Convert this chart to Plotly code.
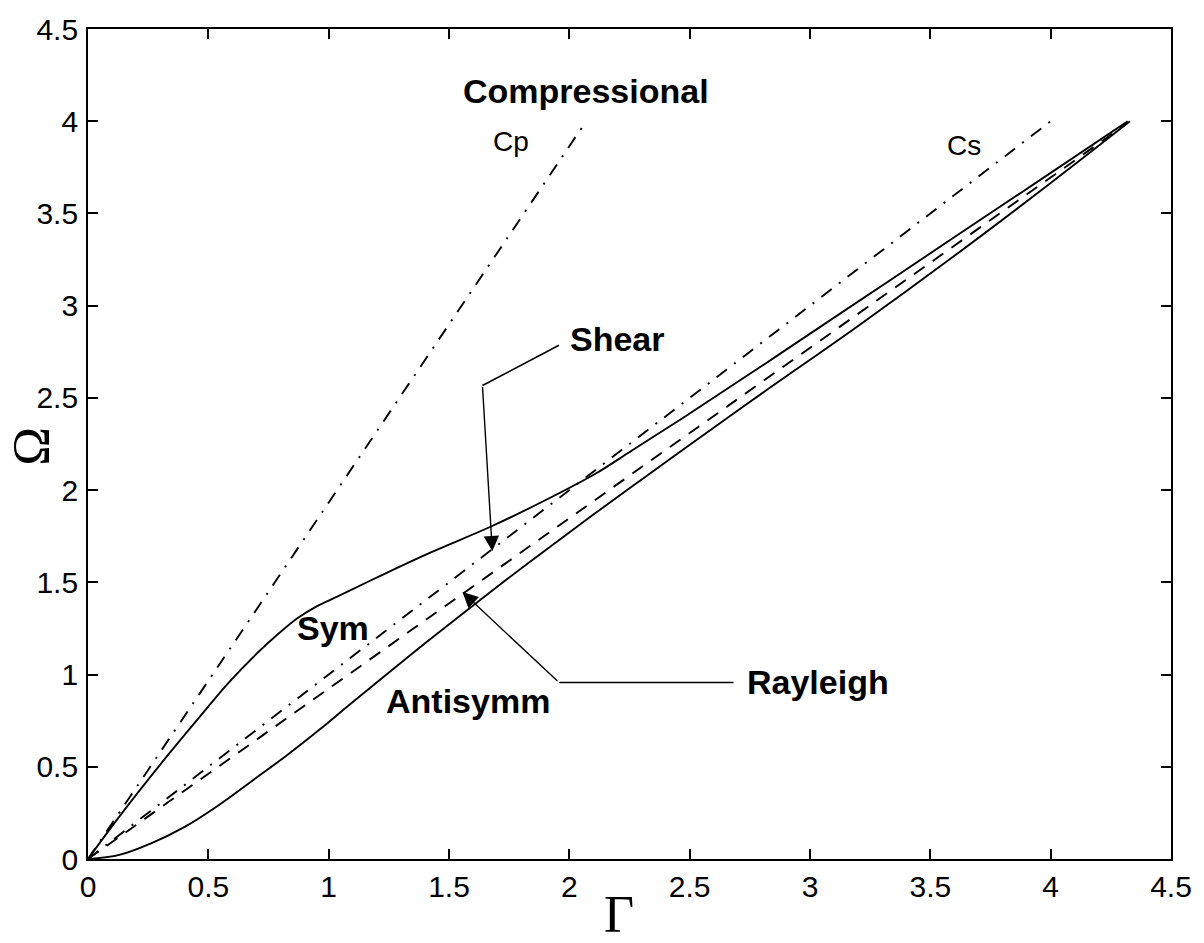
import plotly.graph_objects as go

# Bulk wave speed lines (dimensionless frequency Omega vs wavenumber Gamma)
cp_gamma = [0.0, 2.07]
cp_omega = [0.0, 4.0]
cs_gamma = [0.0, 4.0]
cs_omega = [0.0, 4.0]
rayleigh_gamma = [0.0, 4.33]
rayleigh_omega = [0.0, 4.0]

# Lowest symmetric plate mode
sym_gamma = [0.0, 0.13, 0.33, 0.47, 0.58, 0.71, 0.79, 0.87, 0.95, 1.04, 1.23,
             1.42, 1.67, 1.90, 2.11, 2.26, 2.50, 2.79, 3.10, 3.61, 4.00, 4.32]
sym_omega = [0.0, 0.23, 0.56, 0.78, 0.95, 1.125, 1.22, 1.305, 1.37, 1.425, 1.545,
             1.66, 1.80, 1.945, 2.09, 2.215, 2.415, 2.665, 2.935, 3.38, 3.72, 4.0]

# Lowest antisymmetric (flexural) plate mode
anti_gamma = [0.0, 0.13, 0.26, 0.40, 0.54, 0.68, 0.82, 0.96, 1.09, 1.23, 1.42,
              1.62, 1.83, 2.04, 2.25, 2.45, 2.79, 3.20, 3.61, 4.00, 4.32]
anti_omega = [0.0, 0.022, 0.084, 0.173, 0.289, 0.422, 0.556, 0.699, 0.84, 0.99,
              1.19, 1.395, 1.605, 1.81, 2.01, 2.198, 2.515, 2.89, 3.28, 3.665, 3.99]

tick_vals = [0, 0.5, 1, 1.5, 2, 2.5, 3, 3.5, 4, 4.5]
tick_text = ["0", "0.5", "1", "1.5", "2", "2.5", "3", "3.5", "4", "4.5"]

DASHDOT = "13px,9px,2px,9px"
DASHED = "13px,10px"
LW = 1.9

fig = go.Figure()
fig.add_trace(go.Scatter(x=cp_gamma, y=cp_omega, mode="lines",
                         line=dict(color="black", width=LW, dash=DASHDOT)))
fig.add_trace(go.Scatter(x=cs_gamma, y=cs_omega, mode="lines",
                         line=dict(color="black", width=LW, dash=DASHDOT)))
fig.add_trace(go.Scatter(x=rayleigh_gamma, y=rayleigh_omega, mode="lines",
                         line=dict(color="black", width=LW, dash=DASHED)))
fig.add_trace(go.Scatter(x=sym_gamma, y=sym_omega, mode="lines",
                         line=dict(color="black", width=LW, shape="spline", smoothing=1.0)))
fig.add_trace(go.Scatter(x=anti_gamma, y=anti_omega, mode="lines",
                         line=dict(color="black", width=LW, shape="spline", smoothing=1.0)))

# Leader lines for the Shear and Rayleigh callouts
fig.add_shape(type="path", xref="x", yref="y",
              path="M 1.957 2.785 L 1.639 2.567",
              line=dict(color="black", width=1.6))
fig.add_shape(type="path", xref="x", yref="y",
              path="M 2.682 0.957 L 1.957 0.957",
              line=dict(color="black", width=1.6))

bold = dict(family="Liberation Sans, Arial, sans-serif", size=34, color="black")
plain = dict(family="Liberation Sans, Arial, sans-serif", size=28, color="black")

annotations = [
    # arrow heads
    dict(x=1.680, y=1.668, ax=1.639, ay=2.567, xref="x", yref="y", axref="x", ayref="y",
         text="", showarrow=True, arrowhead=2, arrowsize=2.2, arrowwidth=1.4, arrowcolor="black"),
    dict(x=1.556, y=1.447, ax=1.957, ay=0.957, xref="x", yref="y", axref="x", ayref="y",
         text="", showarrow=True, arrowhead=2, arrowsize=2.2, arrowwidth=1.4, arrowcolor="black"),
    # curve labels
    dict(x=2.071, y=4.165, text="<b>Compressional</b>", font=bold, showarrow=False,
         xanchor="center", yanchor="middle"),
    dict(x=1.758, y=3.89, text="Cp", font=plain, showarrow=False,
         xanchor="center", yanchor="middle"),
    dict(x=3.640, y=3.87, text="Cs", font=plain, showarrow=False,
         xanchor="center", yanchor="middle"),
    dict(x=1.995, y=2.822, text="<b>Shear</b>", font=bold, showarrow=False,
         xanchor="left", yanchor="middle"),
    dict(x=1.018, y=1.25, text="<b>Sym</b>", font=bold, showarrow=False,
         xanchor="center", yanchor="middle"),
    dict(x=1.578, y=0.855, text="<b>Antisymm</b>", font=bold, showarrow=False,
         xanchor="center", yanchor="middle"),
    dict(x=2.728, y=0.957, text="<b>Rayleigh</b>", font=bold, showarrow=False,
         xanchor="left", yanchor="middle"),
    # axis titles
    dict(x=0.490, y=-0.0665, xref="paper", yref="paper", text="Γ", showarrow=False,
         font=dict(family="Liberation Serif, Times New Roman, serif", size=52, color="black"),
         xanchor="center", yanchor="middle"),
    dict(x=-0.0525, y=0.497, xref="paper", yref="paper", text="Ω", showarrow=False,
         textangle=-90,
         font=dict(family="Liberation Serif, Times New Roman, serif", size=52, color="black"),
         xanchor="center", yanchor="middle"),
]

axis_common = dict(
    range=[0, 4.5], tickvals=tick_vals, ticktext=tick_text,
    ticks="inside", ticklen=10, tickwidth=1.5, tickcolor="black",
    showline=True, linecolor="black", linewidth=1.8, mirror="ticks",
    showgrid=False, zeroline=False,
    tickfont=dict(family="Liberation Sans, Arial, sans-serif", size=30, color="black"),
)

fig.update_layout(
    width=1204, height=943,
    margin=dict(l=88, r=31, t=17, b=84),
    paper_bgcolor="white", plot_bgcolor="white",
    showlegend=False,
    xaxis=dict(axis_common, ticklabelstandoff=0),
    yaxis=dict(axis_common, ticklabelstandoff=2),
    annotations=annotations,
)

fig.write_html("out.html")
